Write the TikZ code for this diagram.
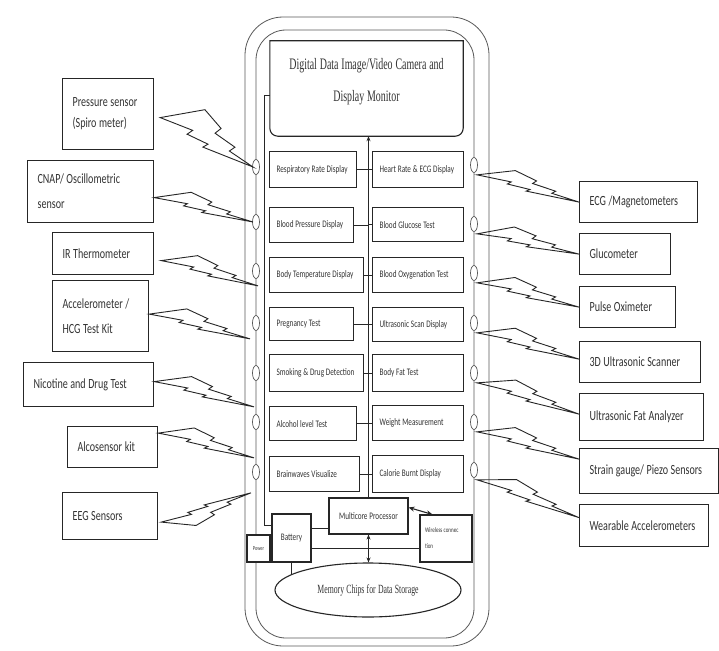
\documentclass[tikz,border=0pt]{standalone}
\usepackage{fontspec}
\setmainfont{Carlito}
\newfontfamily\labfont[FakeStretch=0.72]{Carlito}
\newfontfamily\serfont[FakeStretch=0.62]{Liberation Serif}
\usetikzlibrary{calc,shapes.geometric,arrows.meta}

% one unbreakable label line with the tight word spacing of condensed type
\newcommand\lbl[1]{\mbox{\spaceskip .18em\relax #1}}

\colorlet{ink}{black!85}
\colorlet{txt}{black!80}
\tikzset{
  sensor/.style={draw=ink, line width=1.2pt, anchor=north west, inner xsep=10pt,
    inner ysep=0pt, align=left, text=txt, font={\labfont\fontsize{14}{25}\selectfont}},
  cell/.style={draw=ink, line width=1.2pt, anchor=north west, inner xsep=7pt,
    inner ysep=0pt, align=left, text=txt, font={\labfont\fontsize{10}{12}\selectfont}},
  unit/.style={draw=ink, line width=1.1pt, fill=white, inner sep=0pt, text=txt,
    font={\labfont\fontsize{10}{12}\selectfont}},
  shell/.style={draw=black!65, line width=0.8pt},
  port/.style={ellipse, draw=black!65, fill=white, line width=0.7pt,
    minimum width=7pt, minimum height=15pt, inner sep=0pt},
  zapline/.style={draw=ink, line width=0.9pt, line join=miter},
  wire/.style={draw=ink, line width=0.9pt},
}

% lightning bolt from #1 to #2, bulge on side #3 (90 or -90), zigzag depth #4
\newcommand\zap[4]{%
  \draw[zapline] (#1)
   -- ($(#1)!0.34!(#2)!#4*14pt!#3:(#2)$)
   -- ($(#1)!0.56!(#2)!#4*9.5pt!#3:(#2)$)
   -- ($(#1)!0.53!(#2)!#4*6pt!#3:(#2)$)
   -- ($(#1)!0.76!(#2)!#4*4.5pt!#3:(#2)$)
   -- ($(#1)!0.73!(#2)!#4*1.5pt!#3:(#2)$)
   -- (#2)
   -- ($(#1)!0.49!(#2)!-#4*3pt!#3:(#2)$)
   -- ($(#1)!0.52!(#2)!-#4*0.5pt!#3:(#2)$)
   -- ($(#1)!0.30!(#2)!-#4*1pt!#3:(#2)$)
   -- ($(#1)!0.33!(#2)!#4*2pt!#3:(#2)$)
   -- cycle;}

\begin{document}
\begin{tikzpicture}[x=1pt,y=-1pt, >={Stealth[length=5pt,width=4pt]}]
\useasboundingbox (0,0) rectangle (719,650);
\fill[white] (0,0) rectangle (719,650);

% device housing (double outline)
\draw[shell, rounded corners=38pt] (245,17) rectangle (489,646);
\draw[shell, rounded corners=30pt] (256,30) rectangle (474,638);

% camera / monitor block, rounded at the bottom only
\node[minimum width=193pt, minimum height=95pt, inner sep=0pt] (cam) at (366.5,88.5) {};
\draw[ink, line width=1.1pt] (cam.north west)
  -- ([yshift=8pt]cam.south west) arc[start angle=180, end angle=270, radius=8pt]
  -- ([xshift=-8pt]cam.south east) arc[start angle=270, end angle=360, radius=8pt]
  -- (cam.north east) -- cycle;
\node[align=center, text=txt, font={\serfont\fontsize{16}{32}\selectfont}] (camtext)
  at ([yshift=7pt]cam.center) {\lbl{Digital Data Image/Video Camera and}\\\lbl{Display Monitor}};

% display / test panels, left column
\node[cell, text width=73pt, minimum height=36pt] (L1) at (269,151) {\lbl{Respiratory Rate Display}};
\node[cell, text width=70pt, minimum height=35pt] (L2) at (269,207) {\lbl{Blood Pressure Display}};
\node[cell, text width=80pt, minimum height=35pt] (L3) at (269,257) {\lbl{Body Temperature Display}};
\node[cell, text width=70pt, minimum height=33pt] (L4) at (269,307) {\lbl{Pregnancy Test}};
\node[cell, text width=80pt, minimum height=37pt] (L5) at (269,354) {\lbl{Smoking \& Drug Detection}};
\node[cell, text width=73pt, minimum height=34pt] (L6) at (269,406) {\lbl{Alcohol level Test}};
\node[cell, text width=76pt, minimum height=35pt] (L7) at (269,456) {\lbl{Brainwaves Visualize}};

% display / test panels, right column
\node[cell, text width=77pt, minimum height=36pt] (R1) at (372,151) {\lbl{Heart Rate \& ECG Display}};
\node[cell, text width=77pt, minimum height=34pt] (R2) at (372,207) {\lbl{Blood Glucose Test}};
\node[cell, text width=77pt, minimum height=35pt] (R3) at (372,257) {\lbl{Blood Oxygenation Test}};
\node[cell, text width=77pt, minimum height=34pt] (R4) at (372,307) {\lbl{Ultrasonic Scan Display}};
\node[cell, text width=77pt, minimum height=37pt] (R5) at (372,354) {\lbl{Body Fat Test}};
\node[cell, text width=77pt, minimum height=35pt] (R6) at (372,405) {\lbl{Weight Measurement}};
\node[cell, text width=77pt, minimum height=37pt] (R7) at (372,455) {\lbl{Calorie Burnt Display}};

% processing and power units
\node[unit, minimum width=79pt, minimum height=36pt] (proc) at (368.5,516) {\lbl{Multicore Processor}};
\node[unit, minimum width=39pt, minimum height=48pt] (bat) at (291.5,538) {Battery};
\node[unit, minimum width=23pt, minimum height=27pt, font={\labfont\fontsize{6}{7}\selectfont}] (pow) at (258.5,548.5) {Power};
\node[unit, minimum width=52pt, minimum height=47pt, inner xsep=5pt, text width=42pt, align=left,
  font={\labfont\fontsize{7}{16}\selectfont}] (wl) at (446,538.5) {\lbl{Wireless connec}\\\lbl{tion}};
\node[ellipse, draw=ink, line width=1.1pt, minimum width=186pt, minimum height=54pt, inner sep=0pt,
  text=txt, font={\serfont\fontsize{12.5}{14}\selectfont}] (mem) at (368,590) {\lbl{Memory Chips for Data Storage}};

% internal wiring
\draw[wire, ->] (proc.north) -- (proc.north |- cam.south);
\foreach \c in {L1,L2,L3,L4,L5,L6,L7} \draw[wire] (\c.east) -- (\c.east -| proc.north);
\foreach \c in {R1,R2,R3,R4,R5,R6,R7} \draw[wire] (\c.west) -- (\c.west -| proc.north);
\draw[wire] ([yshift=-6.5pt]cam.west) -- ++(-5,0) |- ([yshift=13pt]bat.west);
\coordinate (b1) at ([yshift=10pt]bat.east);
\coordinate (b2) at ([yshift=-10pt]bat.east);
\draw[wire] (b1) -- (b1 -| proc.west);
\draw[wire] (b2) -- (b2 -| wl.west);
\draw[wire] (pow.east) -- (pow.east -| bat.west);
\draw[wire] (bat.south) -- (bat.south |- mem.168);
\draw[wire, <->] (proc.south) -- (proc.south |- mem.north);
\draw[wire, line width=1.1pt, {Stealth[length=6pt,width=5pt]}-{Stealth[length=6pt,width=5pt]}]
  ([yshift=-10pt]proc.north east) -- ([xshift=13pt]wl.north west);

% sensor ports on the housing
\foreach \y [count=\i] in {167,222,271,323,373,422,472} \node[port] (ol\i) at (256,\y) {};
\foreach \y [count=\i] in {165,224,273,323,373,422,470} \node[port] (or\i) at (474,\y) {};

% external sensors, left
\node[sensor, text width=71pt,  minimum height=71pt, font={\labfont\fontsize{14}{21}\selectfont}]
  (P1) at (62,78)  {\lbl{Pressure sensor}\\\lbl{(Spiro meter)}};
\node[sensor, text width=106pt, minimum height=62pt] (P2) at (27,160)  {\lbl{CNAP/ Oscillometric}\\\lbl{sensor}};
\node[sensor, text width=81pt,  minimum height=42pt] (P3) at (52,232)  {\lbl{IR Thermometer}};
\node[sensor, text width=76pt,  minimum height=71pt] (P4) at (52,280)  {\lbl{Accelerometer /}\\\lbl{HCG Test Kit}};
\node[sensor, text width=110pt, minimum height=44pt] (P5) at (23,362)  {\lbl{Nicotine and Drug Test}};
\node[sensor, text width=70pt,  minimum height=41pt] (P6) at (67,426)  {\lbl{Alcosensor kit}};
\node[sensor, text width=75pt,  minimum height=47pt] (P7) at (62,492)  {\lbl{EEG Sensors}};

% external sensors, right
\node[sensor, text width=98pt,  minimum height=41pt] (Q1) at (579,181) {\lbl{ECG /Magnetometers}};
\node[sensor, text width=71pt,  minimum height=41pt] (Q2) at (579,233) {\lbl{Glucometer}};
\node[sensor, text width=76pt,  minimum height=41pt] (Q3) at (579,286) {\lbl{Pulse Oximeter}};
\node[sensor, text width=101pt, minimum height=41pt] (Q4) at (579,341) {\lbl{3D Ultrasonic Scanner}};
\node[sensor, text width=104pt, minimum height=47pt] (Q5) at (579,393) {\lbl{Ultrasonic Fat Analyzer}};
\node[sensor, text width=119pt, minimum height=45pt] (Q6) at (579,448) {\lbl{Strain gauge/ Piezo Sensors}};
\node[sensor, text width=109pt, minimum height=42pt] (Q7) at (579,504) {\lbl{Wearable Accelerometers}};

% wireless link end points
\coordinate (s1) at ($(P1.east)+(6,3.5)$);
\coordinate (s2) at ($(P2.east)+(0,6)$);
\coordinate (s3) at ($(P3.east)+(7,7)$);
\coordinate (s4) at ($(P4.east)+(0,-2)$);
\coordinate (s5) at ($(P5.east)+(0,-3)$);
\coordinate (s6) at ($(P6.east)+(0,-14)$);
\coordinate (s7) at ($(P7.east)+(3,6)$);
\coordinate (e1) at ($(ol1.center)+(-3,0)$);
\coordinate (e2) at ($(ol2.center)+(-3,0)$);
\coordinate (e3) at ($(ol3.south)+(2,7)$);
\coordinate (e4) at ($(ol4.south)+(-6,8)$);
\coordinate (e5) at ($(ol5.south)+(-2,26)$);
\coordinate (e6) at ($(ol6.south)+(-2,28)$);
\coordinate (e7) at ($(ol7.south)+(-5,13)$);
\foreach \i in {1,...,7} \coordinate (t\i) at ($(or\i.south)+(3,2)$);
\coordinate (f1) at (Q1.west);
\coordinate (f2) at (Q2.west);
\coordinate (f3) at (Q3.west);
\coordinate (f4) at ($(Q4.west)+(0,-3)$);
\coordinate (f5) at ($(Q5.west)+(0,-3)$);
\coordinate (f6) at ($(Q6.west)+(0,-12)$);
\coordinate (f7) at ($(Q7.west)+(0,-8)$);

\zap{s1}{e1}{90}{2};
\foreach \i in {2,...,6} \zap{s\i}{e\i}{90}{1};
\zap{s7}{e7}{-90}{1};
\foreach \i in {1,...,7} \zap{t\i}{f\i}{90}{1};
\end{tikzpicture}
\end{document}
